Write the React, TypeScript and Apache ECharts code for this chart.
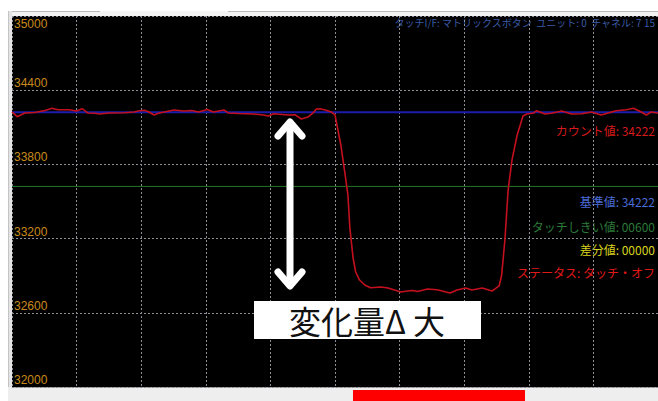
import React, { useEffect, useRef } from "react";
import * as echarts from "echarts";

// ---- data ----
const SAMPLE_X = [
  0, 0.8, 2.0, 3.5, 5.1, 6.2, 7.1, 8.9, 10.0, 10.9, 11.7, 12.8, 13.5, 15.1, 17.4, 18.9, 19.7, 20.5, 21.2, 22.0,
  22.8, 25.1, 26.6, 27.8, 28.9, 30.2, 31.2, 32.0, 32.8, 33.5, 35.1, 37.4, 38.9, 39.7, 40.5, 42.8, 43.8, 44.8,
  45.8, 46.6, 47.1, 47.7, 48.5, 49.4, 50.0, 50.9, 51.5, 52.0, 52.3, 52.8, 53.2, 53.8, 54.6, 55.5, 57.1, 58.2,
  59.2, 60.2, 61.2, 62.0, 62.8, 64.3, 65.8, 67.8, 68.9, 70.2, 71.2, 72.8, 74.3, 75.4, 75.8, 76.3, 76.8, 77.4,
  78.2, 79.1, 79.7, 80.8, 81.2, 82.5, 83.5, 85.1, 86.6, 88.2, 89.7, 91.2, 92.3, 93.5, 95.1, 96.2, 97.4, 98.2,
  98.9, 100,
];
const COUNT_VALUES = [
  34224, 34186, 34216, 34220, 34236, 34254, 34242, 34242, 34232, 34250, 34216, 34213, 34208, 34216, 34218, 34224,
  34234, 34237, 34224, 34199, 34216, 34240, 34232, 34236, 34224, 34244, 34224, 34232, 34240, 34216, 34212, 34208,
  34199, 34191, 34210, 34199, 34202, 34167, 34183, 34216, 34248, 34250, 34240, 34224, 34200, 33957, 33741, 33553,
  33286, 33043, 32930, 32865, 32825, 32803, 32809, 32800, 32784, 32768, 32776, 32780, 32772, 32792, 32787, 32760,
  32784, 32800, 32784, 32800, 32776, 32817, 32906, 33189, 33593, 33836, 34038, 34191, 34208, 34216, 34234, 34208,
  34213, 34232, 34208, 34210, 34224, 34199, 34216, 34234, 34242, 34254, 34224, 34199, 34224, 34216,
];
const BASE_VALUE = 34222;
const COUNT_VALUE = 34222;
const TOUCH_THRESHOLD = 600;
const DIFF_VALUE = 0;
const Y_MIN = 32000;
const Y_MAX = 35000;
const Y_STEP = 600;
const X_MIN = 0;
const X_MAX = 100;
const X_STEP = 10;
const HEADER_TEXT = "タッチI/F: マトリックスボタン  ユニット: 0  チャネル: 7 15";
const ANNOTATION_TEXT = "変化量Δ 大";

const pad5 = (n: number) => String(n).padStart(5, "0");

export default function App() {
  const ref = useRef<HTMLDivElement>(null);
  useEffect(() => {
    document.body.style.margin = "0";
    const chart = echarts.init(ref.current!, null, { renderer: "svg" });
    const jp = "'Noto Sans CJK JP', sans-serif";
    const splitStyle = { color: "#8e8e96", width: 1, type: [2, 2] as any };
    const countData = SAMPLE_X.map((x, i) => [x, COUNT_VALUES[i]]);
    const labelX = 655;
    chart.setOption({
      animation: false,
      backgroundColor: "#ffffff",
      grid: {
        left: 12,
        top: 16,
        width: 650,
        height: 371,
        show: true,
        backgroundColor: "#000000",
        borderWidth: 0,
      },
      xAxis: {
        type: "value",
        min: X_MIN,
        max: X_MAX,
        interval: X_STEP,
        axisLine: { show: false },
        axisTick: { show: false },
        axisLabel: { show: false },
        splitLine: { show: true, lineStyle: splitStyle },
      },
      yAxis: [
        {
          type: "value",
          min: Y_MIN,
          max: Y_MAX,
          interval: Y_STEP,
          axisLine: { show: false },
          axisTick: { show: false },
          splitLine: { show: true, lineStyle: splitStyle },
          axisLabel: {
            inside: true,
            margin: 2,
            showMaxLabel: false,
            verticalAlign: "bottom",
            color: "#c98a1c",
            fontFamily: "'Liberation Sans', Arial, sans-serif",
            fontSize: 12,
            padding: [0, 0, 1, 0],
            formatter: (v: number) => String(v),
          },
        },
        {
          type: "value",
          min: Y_MIN,
          max: Y_MAX,
          interval: Y_STEP,
          position: "left",
          axisLine: { show: false },
          axisTick: { show: false },
          splitLine: { show: false },
          axisLabel: {
            inside: true,
            margin: 2,
            verticalAlign: "top",
            color: "#c98a1c",
            fontFamily: "'Liberation Sans', Arial, sans-serif",
            fontSize: 12,
            padding: [2, 0, 0, 0],
            formatter: (v: number) => (v === Y_MAX ? String(v) : ""),
          },
        },
      ],
      series: [
        {
          type: "line",
          data: [[X_MIN, BASE_VALUE - TOUCH_THRESHOLD], [X_MAX, BASE_VALUE - TOUCH_THRESHOLD]],
          showSymbol: false,
          lineStyle: { color: "#22762a", width: 1 },
          z: 2,
        },
        {
          type: "line",
          data: [[X_MIN, BASE_VALUE], [X_MAX, BASE_VALUE]],
          showSymbol: false,
          lineStyle: { color: "#1c1cab", width: 2 },
          z: 3,
        },
        {
          type: "line",
          data: countData,
          showSymbol: false,
          lineStyle: { color: "#c4101e", width: 1.6 },
          z: 4,
        },
      ],
      graphic: [
        // frame
        { type: "rect", shape: { x: 8, y: 11, width: 650, height: 5 }, style: { fill: "#f3f3f3" }, silent: true },
        { type: "line", shape: { x1: 8, y1: 11.5, x2: 100, y2: 11.5 }, style: { stroke: "#b8b8b8", lineWidth: 1 } },
        { type: "line", shape: { x1: 228, y1: 11.5, x2: 658, y2: 11.5 }, style: { stroke: "#b8b8b8", lineWidth: 1 } },
        { type: "rect", shape: { x: 8, y: 11, width: 4, height: 390 }, style: { fill: "#e4e4e4" } },
        { type: "line", shape: { x1: 8.5, y1: 11, x2: 8.5, y2: 401 }, style: { stroke: "#c4c4c4", lineWidth: 1 } },
        { type: "rect", shape: { x: 8, y: 387, width: 650, height: 14 }, style: { fill: "#eeeeee" } },
        { type: "line", shape: { x1: 12, y1: 387.5, x2: 658, y2: 387.5 }, style: { stroke: "#a8a8a8", lineWidth: 1 } },
        { type: "rect", shape: { x: 353, y: 390, width: 172, height: 11 }, style: { fill: "#ff0000" } },
        // header
        {
          type: "text",
          x: labelX,
          y: 22,
          style: { text: HEADER_TEXT, fill: "#3a5ca6", font: `10px ${jp}`, align: "right", verticalAlign: "middle" },
        },
        // right labels
        {
          type: "text",
          x: labelX,
          y: 130,
          style: { text: `カウント値: ${COUNT_VALUE}`, fill: "#d41a1a", font: `12px ${jp}`, align: "right", verticalAlign: "middle" },
        },
        {
          type: "text",
          x: labelX,
          y: 201,
          style: { text: `基準値: ${BASE_VALUE}`, fill: "#4a6cd8", font: `12px ${jp}`, align: "right", verticalAlign: "middle" },
        },
        {
          type: "text",
          x: labelX,
          y: 226,
          style: { text: `タッチしきい値: ${pad5(TOUCH_THRESHOLD)}`, fill: "#2b7a3a", font: `12px ${jp}`, align: "right", verticalAlign: "middle" },
        },
        {
          type: "text",
          x: labelX,
          y: 249,
          style: { text: `差分値: ${pad5(DIFF_VALUE)}`, fill: "#d8d41e", font: `12px ${jp}`, align: "right", verticalAlign: "middle" },
        },
        {
          type: "text",
          x: labelX,
          y: 272,
          style: { text: "ステータス: タッチ・オフ", fill: "#e01818", font: `12px ${jp}`, align: "right", verticalAlign: "middle" },
        },
        // double arrow
        { type: "line", shape: { x1: 290, y1: 124, x2: 290, y2: 284 }, style: { stroke: "#ffffff", lineWidth: 7 }, z: 20 },
        {
          type: "polyline",
          shape: { points: [[278, 136], [290, 122], [302, 136]] },
          style: { stroke: "#ffffff", lineWidth: 7, fill: "none", lineCap: "round", lineJoin: "round" },
          z: 20,
        },
        {
          type: "polyline",
          shape: { points: [[278, 272], [290, 286], [302, 272]] },
          style: { stroke: "#ffffff", lineWidth: 7, fill: "none", lineCap: "round", lineJoin: "round" },
          z: 20,
        },
        // annotation box
        { type: "rect", shape: { x: 254, y: 301, width: 227, height: 38 }, style: { fill: "#ffffff" }, z: 20 },
        {
          type: "text",
          x: 367,
          y: 320,
          style: { text: ANNOTATION_TEXT, fill: "#111111", font: `32px ${jp}`, align: "center", verticalAlign: "middle" },
          z: 21,
        },
      ],
    });
    return () => chart.dispose();
  }, []);
  return <div ref={ref} style={{ width: 658, height: 401 }} />;
}
